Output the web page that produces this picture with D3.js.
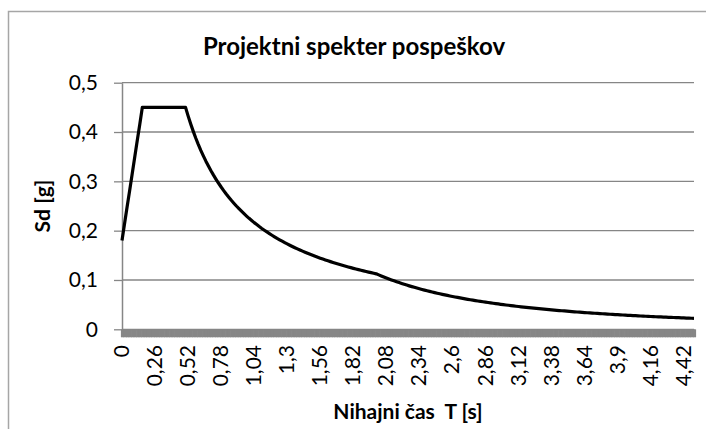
<!DOCTYPE html>
<html>
<head>
<meta charset="utf-8">
<script src="https://cdn.jsdelivr.net/npm/d3@7"></script>
<style>
  html, body { margin: 0; padding: 0; background: #fff; }
  svg { display: block; font-family: Lato, "Open Sans", sans-serif; }
</style>
</head>
<body>
<div id="chart"></div>
<script>
// Projektni spekter pospeškov — Sd [g] vs T [s], step 0.02 s
const sdValues = [
  0.180, 0.214, 0.248, 0.281, 0.315, 0.349, 0.383, 0.416,
  0.450, 0.450, 0.450, 0.450, 0.450, 0.450, 0.450, 0.450, 0.450,
  0.450, 0.450, 0.450, 0.450, 0.450, 0.450, 0.450, 0.450, 0.450,
  0.4327, 0.4167, 0.4018, 0.3879, 0.3750, 0.3629, 0.3516, 0.3409, 0.3309, 0.3214,
  0.3125, 0.3041, 0.2961, 0.2885, 0.2813, 0.2744, 0.2679, 0.2616, 0.2557, 0.2500,
  0.2446, 0.2394, 0.2344, 0.2296, 0.2250, 0.2206, 0.2163, 0.2123, 0.2083, 0.2045,
  0.2009, 0.1974, 0.1940, 0.1907, 0.1875, 0.1844, 0.1815, 0.1786, 0.1758, 0.1731,
  0.1705, 0.1679, 0.1654, 0.1630, 0.1607, 0.1585, 0.1563, 0.1541, 0.1520, 0.1500,
  0.1480, 0.1461, 0.1442, 0.1424, 0.1406, 0.1389, 0.1372, 0.1355, 0.1339, 0.1324,
  0.1308, 0.1293, 0.1278, 0.1264, 0.1250, 0.1236, 0.1223, 0.1210, 0.1197, 0.1184,
  0.1172, 0.1160, 0.1148, 0.1136, 0.1125,
  0.1103, 0.1081, 0.1060, 0.1040, 0.1020, 0.1001, 0.0983, 0.0965, 0.0947, 0.0930,
  0.0913, 0.0897, 0.0881, 0.0866, 0.0851, 0.0836, 0.0822, 0.0808, 0.0794, 0.0781,
  0.0768, 0.0756, 0.0744, 0.0732, 0.0720, 0.0709, 0.0698, 0.0687, 0.0676, 0.0666,
  0.0656, 0.0646, 0.0636, 0.0627, 0.0617, 0.0608, 0.0599, 0.0591, 0.0582, 0.0574,
  0.0566, 0.0558, 0.0550, 0.0543, 0.0535, 0.0528, 0.0521, 0.0514, 0.0507, 0.0500,
  0.0493, 0.0487, 0.0481, 0.0474, 0.0468, 0.0462, 0.0456, 0.0451, 0.0445, 0.0439,
  0.0434, 0.0429, 0.0423, 0.0418, 0.0413, 0.0408, 0.0403, 0.0399, 0.0394, 0.0389,
  0.0385, 0.0380, 0.0376, 0.0372, 0.0367, 0.0363, 0.0359, 0.0355, 0.0351, 0.0347,
  0.0343, 0.0340, 0.0336, 0.0332, 0.0329, 0.0325, 0.0322, 0.0318, 0.0315, 0.0312,
  0.0308, 0.0305, 0.0302, 0.0299, 0.0296, 0.0293, 0.0290, 0.0287, 0.0284, 0.0281,
  0.0278, 0.0276, 0.0273, 0.0270, 0.0268, 0.0265, 0.0263, 0.0260, 0.0258, 0.0255,
  0.0253, 0.0250, 0.0248, 0.0246, 0.0243, 0.0241, 0.0239, 0.0237, 0.0235, 0.0232,
  0.0230, 0.0228, 0.0226, 0.0224, 0.0222
];
// categories: T = 0, 0.02, ... 4.50
const periods = d3.range(sdValues.length).map((i) => +(i * 0.02).toFixed(2));
// every 13th category is labelled
const xTickLabels = ["0", "0,26", "0,52", "0,78", "1,04", "1,3", "1,56", "1,82", "2,08",
  "2,34", "2,6", "2,86", "3,12", "3,38", "3,64", "3,9", "4,16", "4,42"];
const yTickValues = [0, 0.1, 0.2, 0.3, 0.4, 0.5];
const yTickLabels = ["0", "0,1", "0,2", "0,3", "0,4", "0,5"];

const W = 706, H = 429;
const plot = { left: 122, right: 694, top: 82.7, bottom: 329.3 };
const gridColor = "#868686";

const svg = d3.select("#chart").append("svg")
  .attr("width", W).attr("height", H);

// chart area border (runs off the right and bottom edges)
svg.append("rect")
  .attr("x", 8.5).attr("y", 11.5)
  .attr("width", W).attr("height", H)
  .attr("fill", "#fff")
  .attr("stroke", "#a6a6a6").attr("stroke-width", 1.5);

const x = d3.scalePoint()
  .domain(periods.map((d, i) => i))
  .range([plot.left, plot.right]);
const y = d3.scaleLinear()
  .domain([0, 0.5])
  .range([plot.bottom, plot.top]);

// horizontal gridlines
svg.append("g")
  .selectAll("line")
  .data(yTickValues)
  .join("line")
  .attr("x1", plot.left).attr("x2", plot.right)
  .attr("y1", (d) => y(d)).attr("y2", (d) => y(d))
  .attr("stroke", gridColor).attr("stroke-width", 1.3);

// y axis
const yAxisG = svg.append("g")
  .attr("transform", `translate(${plot.left},0)`)
  .call(d3.axisLeft(y).tickValues(yTickValues)
    .tickFormat((d, i) => yTickLabels[i]).tickSize(8).tickSizeOuter(0).tickPadding(16));
yAxisG.select(".domain").attr("stroke", gridColor).attr("stroke-width", 1.5);
yAxisG.selectAll(".tick line").attr("stroke", gridColor).attr("stroke-width", 1.3);
yAxisG.selectAll(".tick text")
  .attr("font-family", "Lato, sans-serif").attr("font-size", 21)
  .attr("fill", "#000");

// x axis: a tick at every category (forms the dense grey band)
const xAxisG = svg.append("g")
  .attr("transform", `translate(0,${plot.bottom})`)
  .call(d3.axisBottom(x).tickSize(8).tickSizeOuter(0).tickFormat(""));
xAxisG.select(".domain").attr("stroke", gridColor).attr("stroke-width", 1.5);
xAxisG.selectAll(".tick line").attr("stroke", gridColor).attr("stroke-width", 3.2);

// x tick labels, rotated
svg.append("g")
  .selectAll("text")
  .data(xTickLabels)
  .join("text")
  .attr("transform", (d, i) => `translate(${x(i * 13) + 7},345) rotate(-90)`)
  .attr("text-anchor", "end")
  .attr("font-size", 21)
  .attr("fill", "#000")
  .text((d) => d);

// spectrum line
const line = d3.line()
  .x((d, i) => x(i))
  .y((d) => y(d));
svg.append("path")
  .datum(sdValues)
  .attr("d", line)
  .attr("fill", "none")
  .attr("stroke", "#000")
  .attr("stroke-width", 3.2)
  .attr("stroke-linejoin", "round");

// titles
svg.append("text")
  .attr("x", 354).attr("y", 55)
  .attr("text-anchor", "middle")
  .attr("font-size", 24).attr("font-weight", "bold")
  .text("Projektni spekter pospeškov");

svg.append("text")
  .attr("x", 408).attr("y", 419)
  .attr("text-anchor", "middle")
  .attr("font-size", 21).attr("font-weight", "bold")
  .style("white-space", "pre")
  .text("Nihajni čas  T [s]");

svg.append("text")
  .attr("transform", "translate(50,206) rotate(-90)")
  .attr("text-anchor", "middle")
  .attr("font-size", 21).attr("font-weight", "bold")
  .text("Sd [g]");
</script>
</body>
</html>
